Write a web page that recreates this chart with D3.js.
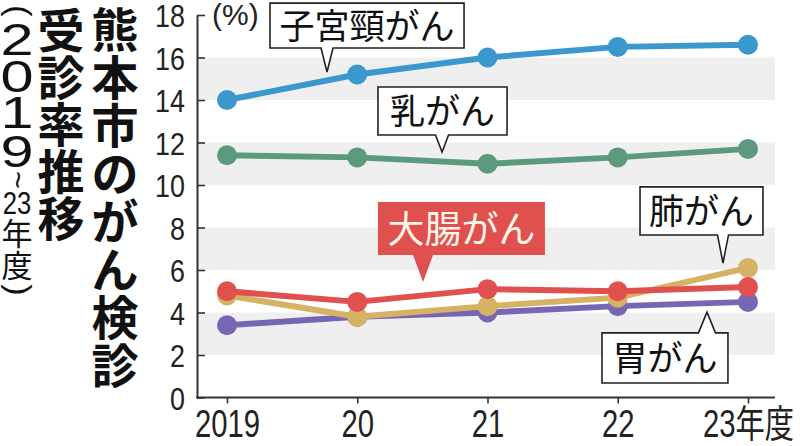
<!DOCTYPE html>
<html><head><meta charset="utf-8">
<script src="https://cdn.jsdelivr.net/npm/d3@7"></script>
<style>body{margin:0;background:#fff}svg{display:block}</style>
</head><body>
<script>
// ---- data ----
const years = ["2019", "20", "21", "22", "23年度"];
const yTicks = [0, 2, 4, 6, 8, 10, 12, 14, 16, 18];
const cervical   = [14.0, 15.2, 16.0, 16.5, 16.6]; // 子宮頸がん
const breast     = [11.4, 11.3, 11.0, 11.3, 11.7]; // 乳がん
const colorectal = [5.0, 4.5, 5.1, 5.0, 5.2];      // 大腸がん
const lung       = [4.8, 3.8, 4.3, 4.7, 6.1];      // 肺がん
const stomach    = [3.4, 3.8, 4.0, 4.3, 4.5];      // 胃がん
const seriesNames = ["胃がん", "肺がん", "大腸がん", "乳がん", "子宮頸がん"];
const titleLine1 = "熊本市のがん検診";
const titleLine2 = "受診率推移";
const unitLabel = "(%)";

const W = 800, H = 446;
const svg = d3.select("body").append("svg").attr("width", W).attr("height", H);

const x = d3.scalePoint().domain(years).range([227, 748]);
const xi = d3.scaleLinear().domain([0, 4]).range([227, 748]);
const y = d3.scaleLinear().domain([0, 18]).range([397.5, 15]);
const plotL = 197, plotR = 775;

const colors = {
  "胃がん": "#7866b5",
  "肺がん": "#d6b265",
  "大腸がん": "#e0504f",
  "乳がん": "#5c9a7d",
  "子宮頸がん": "#3a98cf"
};
const values = {
  "胃がん": stomach, "肺がん": lung, "大腸がん": colorectal,
  "乳がん": breast, "子宮頸がん": cervical
};

// ---- bands ----
const bands = [[2, 4], [6, 8], [10, 12], [14, 16]];
svg.append("g").selectAll("rect").data(bands).join("rect")
  .attr("x", plotL).attr("width", plotR - plotL)
  .attr("y", d => y(d[1])).attr("height", d => y(d[0]) - y(d[1]))
  .attr("fill", "#efefef");

// ---- y axis ----
const ya = svg.append("g").attr("transform", `translate(${plotL},0)`)
  .call(d3.axisLeft(y).tickValues(yTicks).tickSize(-8).tickSizeOuter(0).tickPadding(12));
ya.select(".domain").attr("stroke", "#333").attr("stroke-width", 2);
ya.selectAll(".tick line").attr("stroke", "#333").attr("stroke-width", 1.6);
ya.selectAll(".tick text")
  .attr("x", 0).attr("dy", null).attr("y", 0)
  .attr("transform", "translate(-12,11.5) scale(0.84,1)")
  .attr("font-family", "'Liberation Sans', Arial, sans-serif")
  .attr("font-size", 32).attr("fill", "#222").attr("text-anchor", "end");

// ---- x axis ----
svg.append("line").attr("x1", plotL - 1).attr("x2", plotR)
  .attr("y1", y(0)).attr("y2", y(0)).attr("stroke", "#333").attr("stroke-width", 2);
const xa = svg.append("g").attr("transform", `translate(0,${y(0)})`)
  .call(d3.axisBottom(x).tickSize(6).tickSizeOuter(0));
xa.select(".domain").remove();
xa.selectAll(".tick line").attr("stroke", "#333").attr("stroke-width", 1.6);
xa.selectAll(".tick text")
  .attr("y", 0).attr("dy", null)
  .attr("transform", "translate(0,39) scale(0.77,1)")
  .attr("font-family", "'Liberation Sans', Arial, 'Noto Sans CJK JP', sans-serif")
  .attr("font-size", 38).attr("fill", "#222").attr("text-anchor", "middle");

// unit label
svg.append("text").attr("x", 212).attr("y", 25)
  .attr("font-family", "'Liberation Sans', Arial, sans-serif")
  .attr("font-size", 30).attr("fill", "#222").text(unitLabel);

// ---- series ----
const line = d3.line().x((d, i) => x(years[i])).y(d => y(d));
seriesNames.forEach(name => {
  const g = svg.append("g");
  g.append("path").datum(values[name]).attr("d", line)
    .attr("fill", "none").attr("stroke", colors[name]).attr("stroke-width", 6)
    .attr("stroke-linejoin", "round");
  g.selectAll("circle").data(values[name]).join("circle")
    .attr("cx", (d, i) => x(years[i])).attr("cy", d => y(d)).attr("r", 10)
    .attr("fill", colors[name]);
});

// ---- callouts ----
// box: [xi0, xi1] in category units, [top, bottom] in %, tip in (category, %), side of pointer
const callouts = [
  { text: "子宮頸がん", box: [0.33, 1.82, 18.56, 16.45], tip: [0.768, 15.32], half: 6, side: "bottom", fill: "#fff", fg: "#111", fs: 35 },
  { text: "乳がん", box: [1.159, 2.150, 14.61, 12.35], tip: [1.651, 11.55], half: 6.5, side: "bottom", fill: "#fff", fg: "#111", fs: 35 },
  { text: "大腸がん", box: [1.159, 2.441, 9.20, 6.71], tip: [1.505, 5.44], half: 10, side: "bottom", fill: "#e0504f", fg: "#fff6ea", fs: 37 },
  { text: "肺がん", box: [3.171, 4.115, 9.91, 7.65], tip: [3.808, 6.33], half: 5.5, side: "bottom", fill: "#fff", fg: "#111", fs: 35 },
  { text: "胃がん", box: [2.879, 3.846, 3.04, 0.68], tip: [3.685, 4.02], half: 8.5, side: "top", fill: "#fff", fg: "#111", fs: 35 }
];
callouts.forEach(c => {
  const x0 = xi(c.box[0]), x1 = xi(c.box[1]), y0 = y(c.box[2]), y1 = y(c.box[3]);
  const tx = xi(c.tip[0]), ty = y(c.tip[1]);
  let pts;
  if (c.side === "bottom") {
    pts = [[x0, y0], [x1, y0], [x1, y1], [tx + c.half, y1], [tx, ty], [tx - c.half, y1], [x0, y1]];
  } else {
    pts = [[x0, y0], [tx - c.half, y0], [tx, ty], [tx + c.half, y0], [x1, y0], [x1, y1], [x0, y1]];
  }
  svg.append("path").attr("d", "M" + pts.map(p => p.join(",")).join("L") + "Z")
    .attr("fill", c.fill)
    .attr("stroke", c.fill === "#fff" ? "#222" : "none").attr("stroke-width", 1.6)
    .attr("stroke-linejoin", "miter");
  svg.append("text").attr("x", (x0 + x1) / 2).attr("y", (y0 + y1) / 2 + 0.38 * c.fs)
    .attr("text-anchor", "middle")
    .attr("font-family", "'Noto Sans CJK JP', sans-serif")
    .attr("font-size", c.fs).attr("fill", c.fg).text(c.text);
});

// ---- vertical title ----
function vchar(ch, cx, cy, fs, opts = {}) {
  const g = svg.append("g")
    .attr("transform", `translate(${cx},${cy}) rotate(${opts.rot || 0}) scale(${opts.sx || 1},1)`);
  g.append("text").attr("x", 0).attr("y", (opts.off != null ? opts.off : 0.38) * fs)
    .attr("text-anchor", "middle")
    .attr("font-family", opts.font || "'Noto Sans CJK JP', sans-serif")
    .attr("font-weight", opts.weight || 400)
    .attr("font-size", fs).attr("fill", "#111").text(ch);
}
Array.from(titleLine1).forEach((ch, i) => vchar(ch, 115, 29 + 48 * i, 47, { weight: 700 }));
Array.from(titleLine2).forEach((ch, i) => vchar(ch, 61, 30 + 47 * i, 47, { weight: 700 }));

const latin = "'Liberation Sans', Arial, sans-serif";
vchar("(", 17, 11, 34, { rot: 90, font: latin, off: 0.26 });
[["2", 39], ["0", 76], ["1", 112], ["9", 151]].forEach(([ch, cy]) =>
  vchar(ch, 17, cy, 44, { font: latin, off: 0.358, sx: 1.35 }));
vchar("~", 17, 180, 30, { rot: 90, font: latin, off: 0.3 });
vchar("23", 17, 203, 32, { font: latin, off: 0.358, sx: 0.8 });
vchar("年", 17, 233, 31);
vchar("度", 17, 265, 31);
vchar(")", 17, 290, 34, { rot: 90, font: latin, off: 0.26 });
</script>
</body></html>
